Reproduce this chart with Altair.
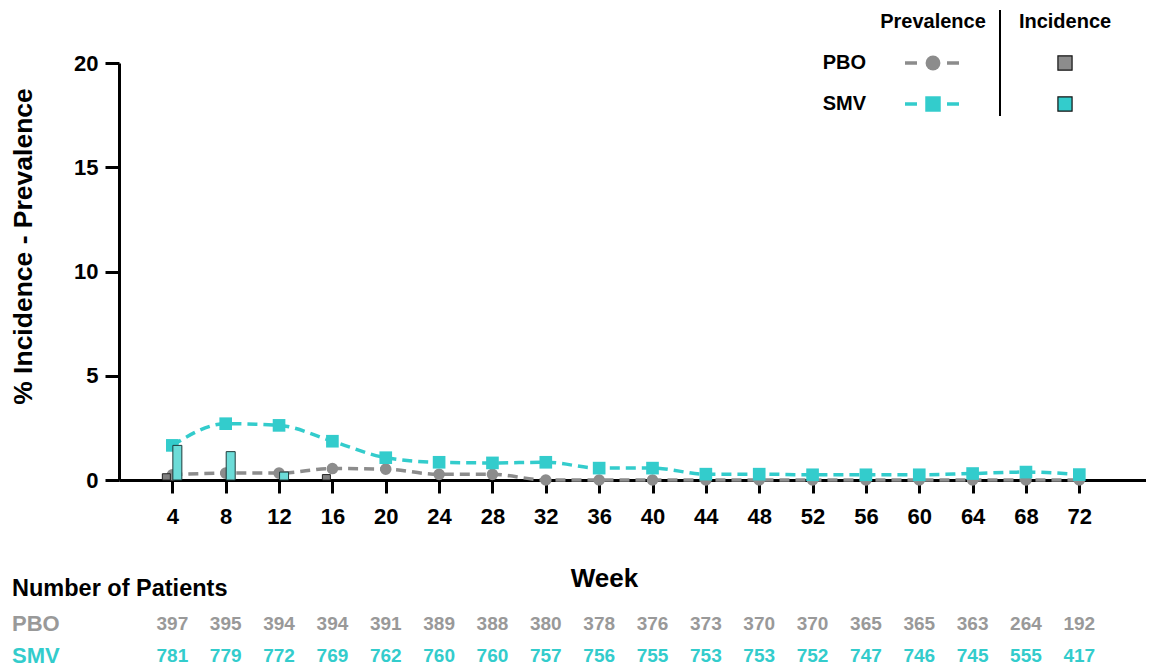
import altair as alt
import pandas as pd

# ---------------- data ----------------
weeks = [4, 8, 12, 16, 20, 24, 28, 32, 36, 40, 44, 48, 52, 56, 60, 64, 68, 72]
pbo_prevalence = [0.25, 0.33, 0.33, 0.55, 0.52, 0.27, 0.27, 0.0, 0.0, 0.0, 0.0, 0.0, 0.0, 0.0, 0.0, 0.0, 0.0, 0.0]
smv_prevalence = [1.66, 2.70, 2.62, 1.86, 1.07, 0.85, 0.82, 0.85, 0.57, 0.57, 0.28, 0.28, 0.25, 0.25, 0.25, 0.31, 0.38, 0.26]
pbo_incidence = [0.3, 0.0, 0.0, 0.26, 0.0, 0.0, 0.0, 0.0, 0.0, 0.0, 0.0, 0.0, 0.0, 0.0, 0.0, 0.0, 0.0, 0.0]
smv_incidence = [1.66, 1.36, 0.38, 0.0, 0.0, 0.0, 0.0, 0.0, 0.0, 0.0, 0.0, 0.0, 0.0, 0.0, 0.0, 0.0, 0.0, 0.0]
pbo_n = [397, 395, 394, 394, 391, 389, 388, 380, 378, 376, 373, 370, 370, 365, 365, 363, 264, 192]
smv_n = [781, 779, 772, 769, 762, 760, 760, 757, 756, 755, 753, 753, 752, 747, 746, 745, 555, 417]
y_ticks = [0, 5, 10, 15, 20]

df = pd.DataFrame({
    "week": weeks,
    "pbo_prev": pbo_prevalence,
    "smv_prev": smv_prevalence,
    "pbo_inc": pbo_incidence,
    "smv_inc": smv_incidence,
    "pbo_n": pbo_n,
    "smv_n": smv_n,
})

# ---------------- styles ----------------
FONT = "Liberation Sans"
GRAY = "#8c8c8c"
TEAL = "#33cccc"
NUM_GRAY = "#999999"
BAR_GRAY = "#808080"
BAR_TEAL = "#6cdcd8"

W, H = 1027, 417

xscale = alt.Scale(domain=[0, 77], nice=False, zero=False, padding=0)
yscale = alt.Scale(domain=[0, 20], nice=False, padding=0)

x_axis = alt.Axis(
    values=weeks, title="Week", grid=False,
    domainColor="black", domainWidth=3, tickColor="black", tickWidth=3, tickSize=13,
    labelFont=FONT, labelFontSize=22, labelFontWeight="bold", labelColor="black",
    labelPadding=13, labelFlush=False,
    titleFont=FONT, titleFontSize=26, titleFontWeight="bold", titleColor="black",
    titleX=485, titleY=98, titleAlign="center", titleBaseline="middle",
)
y_axis = alt.Axis(
    values=y_ticks, title="% Incidence - Prevalence", grid=False,
    domainColor="black", domainWidth=3, tickColor="black", tickWidth=3, tickSize=14,
    labelFont=FONT, labelFontSize=22, labelFontWeight="bold", labelColor="black",
    labelPadding=7, labelFlush=False,
    titleFont=FONT, titleFontSize=26.5, titleFontWeight="bold", titleColor="black",
    titleAngle=270, titleX=-96, titleY=183, titleAlign="center", titleBaseline="middle",
)

base = alt.Chart(df)
X = alt.X("week:Q", scale=xscale, axis=x_axis)


def Y(field):
    return alt.Y(field, type="quantitative", scale=yscale, axis=y_axis)


pbo_line = base.mark_line(color=GRAY, strokeWidth=3.5, strokeDash=[10, 6], interpolate="monotone").encode(
    x=X, y=Y("pbo_prev"))
pbo_pts = base.mark_point(shape="circle", filled=True, size=135, color=GRAY, opacity=1).encode(
    x=X, y=Y("pbo_prev"))
smv_line = base.mark_line(color=TEAL, strokeWidth=3.5, strokeDash=[10, 6], interpolate="monotone").encode(
    x=X, y=Y("smv_prev"))
smv_pts = base.mark_point(shape="square", filled=True, size=160, color=TEAL, opacity=1).encode(
    x=X, y=Y("smv_prev"))

pbo_bar = base.transform_filter("datum.pbo_inc > 0").mark_bar(
    size=8, xOffset=-6, fill=BAR_GRAY, stroke="#222222", strokeWidth=1).encode(
    x=X, y=Y("pbo_inc"))
smv_bar = base.transform_filter("datum.smv_inc > 0").mark_bar(
    size=9, xOffset=5, fill=BAR_TEAL, stroke="#1f3a3a", strokeWidth=1).encode(
    x=X, y=Y("smv_inc"))

# patient numbers table
num_pbo = base.mark_text(font=FONT, fontSize=19, fontWeight="bold", color=NUM_GRAY, baseline="middle").encode(
    x=X, y=alt.value(561), text="pbo_n:Q")
num_smv = base.mark_text(font=FONT, fontSize=19, fontWeight="bold", color=TEAL, baseline="middle").encode(
    x=X, y=alt.value(593), text="smv_n:Q")

one = alt.Data(values=[{"k": 1}])


def label(txt, x, y, size, color="black", align="left"):
    return alt.Chart(one).mark_text(
        text=txt, font=FONT, fontSize=size, fontWeight="bold", color=color,
        align=align, baseline="middle").encode(x=alt.value(x), y=alt.value(y))


texts = [
    label("Number of Patients", -107, 526, 23.5),
    label("PBO", -107, 561, 22, NUM_GRAY),
    label("SMV", -107, 593, 22, TEAL),
    label("Prevalence", 814, -41, 20, align="center"),
    label("Incidence", 946, -41, 20, align="center"),
    label("PBO", 747, 0, 20, align="right"),
    label("SMV", 747, 41, 20, align="right"),
]

leg_sep = alt.Chart(one).mark_rule(color="black", strokeWidth=2).encode(
    x=alt.value(881), y=alt.value(-53), y2=alt.value(53))
leg_pbo_line = alt.Chart(one).mark_rule(color=GRAY, strokeWidth=3.5, strokeDash=[12, 9]).encode(
    x=alt.value(786), x2=alt.value(842), y=alt.value(0))
leg_smv_line = alt.Chart(one).mark_rule(color=TEAL, strokeWidth=3.5, strokeDash=[12, 9]).encode(
    x=alt.value(786), x2=alt.value(842), y=alt.value(41))
leg_pbo_pt = alt.Chart(one).mark_point(shape="circle", filled=True, size=220, color=GRAY, opacity=1).encode(
    x=alt.value(814), y=alt.value(0))
leg_smv_pt = alt.Chart(one).mark_point(shape="square", filled=True, size=240, color=TEAL, opacity=1).encode(
    x=alt.value(814), y=alt.value(41))
leg_pbo_inc = alt.Chart(one).mark_point(shape="square", filled=True, size=200, fill=GRAY, stroke="#111111",
                                        strokeWidth=1.2, opacity=1).encode(x=alt.value(946), y=alt.value(0))
leg_smv_inc = alt.Chart(one).mark_point(shape="square", filled=True, size=200, fill=TEAL, stroke="#111111",
                                        strokeWidth=1.2, opacity=1).encode(x=alt.value(946), y=alt.value(41))

chart = alt.layer(
    pbo_line, pbo_pts, smv_line, smv_pts, pbo_bar, smv_bar,
    num_pbo, num_smv, *texts,
    leg_sep, leg_pbo_line, leg_smv_line, leg_pbo_pt, leg_smv_pt, leg_pbo_inc, leg_smv_inc,
).properties(
    width=W, height=H,
    autosize=alt.AutoSizeParams(type="none"),
    padding={"left": 111, "top": 55, "right": 0, "bottom": 188},
    background="white",
).configure_view(stroke=None)

chart.save("out.html", embed_options={"renderer": "svg", "actions": False})
